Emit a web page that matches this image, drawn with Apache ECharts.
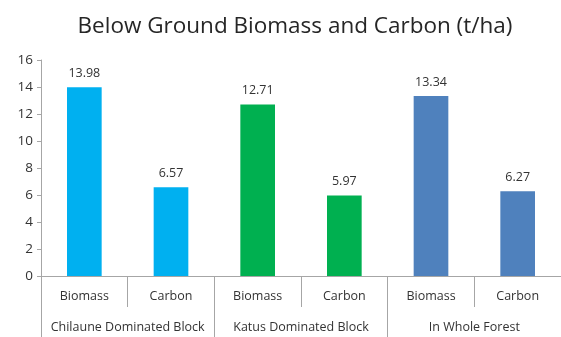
<!DOCTYPE html>
<html>
<head>
<meta charset="utf-8">
<script src="https://cdn.jsdelivr.net/npm/echarts@6/dist/echarts.min.js"></script>
<style>
  html, body { margin: 0; padding: 0; background: #fff; }
  #chart { width: 561px; height: 337px; }
</style>
</head>
<body>
<div id="chart"></div>
<script>
// Below-ground biomass and carbon stock per block (t/ha)
const groups = ['Chilaune Dominated Block', 'Katus Dominated Block', 'In Whole Forest'];
const measures = ['Biomass', 'Carbon'];
const biomass = [13.98, 12.71, 13.34];
const carbon = [6.57, 5.97, 6.27];
const groupColors = ['#00B0F0', '#00B050', '#4F81BD'];
const yTicks = [0, 2, 4, 6, 8, 10, 12, 14, 16];

const font = 'Open Sans, Noto Sans, sans-serif';
const gray = '#A6A6A6';

const innerCats = [];
const barData = [];
groups.forEach((g, i) => {
  innerCats.push(measures[0], measures[1]);
  barData.push({ value: biomass[i], itemStyle: { color: groupColors[i] } });
  barData.push({ value: carbon[i], itemStyle: { color: groupColors[i] } });
});

const chart = echarts.init(document.getElementById('chart'), null, { renderer: 'canvas' });
chart.setOption({
  animation: false,
  title: {
    text: 'Below Ground Biomass and Carbon (t/ha)',
    left: 290, top: 10, textAlign: 'center',
    textStyle: { fontFamily: font, fontSize: 22.5, fontWeight: 'normal', color: '#262626' }
  },
  grid: { left: 41, right: 0, top: 60, bottom: 61, containLabel: false },
  xAxis: [
    {
      type: 'category', data: innerCats, position: 'bottom',
      axisLine: { show: true, lineStyle: { color: gray, width: 1 } },
      axisTick: { show: true, interval: 0, length: 31, lineStyle: { color: gray } },
      axisLabel: { interval: 0, margin: 14, fontFamily: font, fontSize: 12.5, color: '#333333' }
    },
    {
      type: 'category', data: groups, position: 'bottom', offset: 31,
      axisLine: { show: false },
      axisTick: { show: true, interval: 0, length: 30, lineStyle: { color: gray } },
      axisLabel: { interval: 0, margin: 14, fontFamily: font, fontSize: 12.5, color: '#333333' }
    }
  ],
  yAxis: {
    type: 'value', min: yTicks[0], max: yTicks[yTicks.length - 1], interval: 2,
    axisLine: { show: true, lineStyle: { color: gray } },
    axisTick: { show: true, length: 4, lineStyle: { color: gray } },
    splitLine: { show: false },
    axisLabel: { margin: 8, fontFamily: font, fontSize: 13.5, color: '#333333' }
  },
  series: [{
    type: 'bar', xAxisIndex: 0, data: barData, barWidth: '40%',
    label: {
      show: true, position: 'top', distance: 7,
      fontFamily: font, fontSize: 12.5, color: '#333333',
      formatter: p => p.value.toFixed(2)
    }
  }]
});
</script>
</body>
</html>
